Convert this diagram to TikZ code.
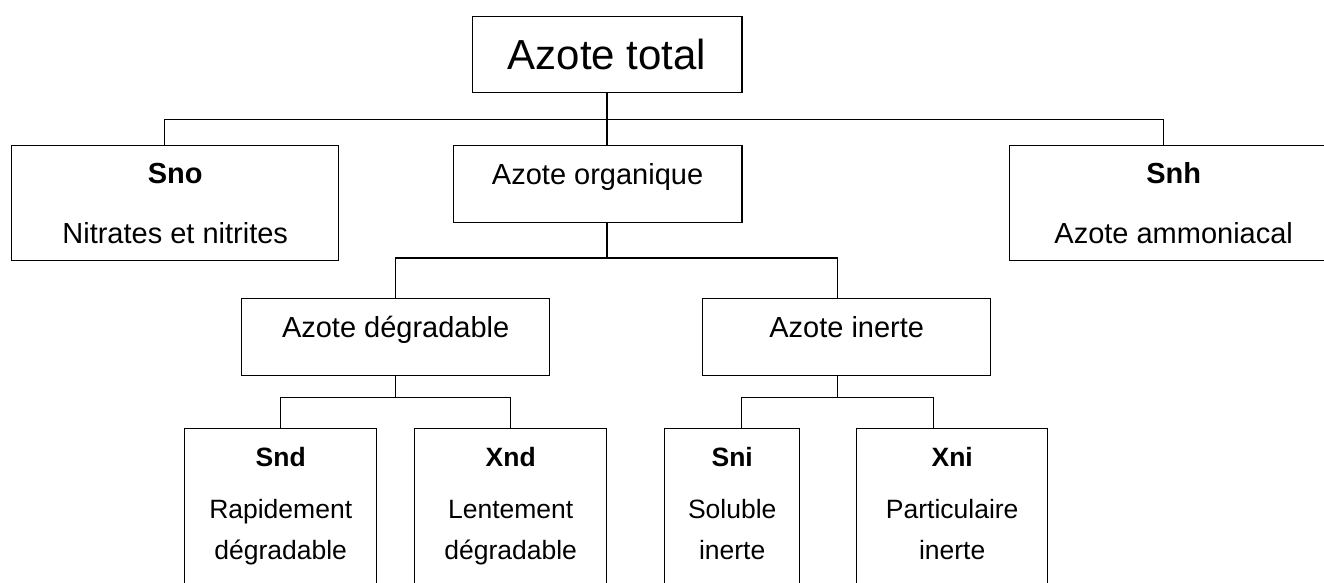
\documentclass[tikz,border=0pt]{standalone}
\usepackage{fontspec}
\setmainfont{Liberation Sans}

\begin{document}
\begin{tikzpicture}[x=0.5pt, y=-0.5pt]
  % --- one unit is one pixel of the page, y running downwards --------------
  \tikzset{
    box/.style={draw, line width=0.7pt, anchor=north west, inner sep=0pt},
    link/.style={draw, line width=0.7pt},
    headbox/.style={box, font=\fontsize{21pt}{25pt}\selectfont},
    groupbox/.style={box, font=\fontsize{14.5pt}{17pt}\selectfont,
      text height=10pt, text depth=10pt},
    statebox/.style={box, align=center,
      font=\fontsize{14.5pt}{30pt}\selectfont},
    leafbox/.style={box, minimum height=100pt},
    leaftext/.style={anchor=north, align=center, inner sep=0pt,
      font=\fontsize{13.25pt}{20.35pt}\selectfont}}

  \path[use as bounding box, clip] (0,0) rectangle (1324,583);

  % ---- 1. the total and its three parts ------------------------------------
  \node[headbox, minimum width=134.7pt, minimum height=38.2pt]
    (total) at (471.7,15.7) {Azote total};
  \node[statebox, minimum width=163.5pt, minimum height=57.5pt]
    (sno) at (11,145) {\textbf{Sno}\\Nitrates et nitrites};
  \node[groupbox, minimum width=144.2pt, minimum height=38.4pt]
    (orga) at (452.7,145) {Azote organique};
  \node[statebox, minimum width=164pt, minimum height=57.5pt]
    (snh) at (1009,145) {\textbf{Snh}\\Azote ammoniacal};

  % ---- 2. the organic part, split in two -----------------------------------
  \node[groupbox, minimum width=154pt, minimum height=38.5pt]
    (degr) at (241,298) {Azote dégradable};
  \node[groupbox, minimum width=144pt, minimum height=38.5pt]
    (inert) at (702,298) {Azote inerte};

  % ---- 3. the four fractions, open at the foot of the page -----------------
  \node[leafbox, minimum width=96pt]   (snd) at (184,428) {};
  \node[leafbox, minimum width=96pt]   (xnd) at (414,428) {};
  \node[leafbox, minimum width=67.5pt] (sni) at (664,428) {};
  \node[leafbox, minimum width=95.5pt] (xni) at (856,428) {};
  \node[leaftext] (snd-t) at ([yshift=-9.5pt]snd.north)
    {\textbf{Snd}\\[5.65pt]Rapidement\\dégradable};
  \node[leaftext] (xnd-t) at ([yshift=-9.5pt]xnd.north)
    {\textbf{Xnd}\\[5.65pt]Lentement\\dégradable};
  \node[leaftext] (sni-t) at ([yshift=-9.5pt]sni.north)
    {\textbf{Sni}\\[5.65pt]Soluble\\inerte};
  \node[leaftext] (xni-t) at ([yshift=-9.5pt]xni.north)
    {\textbf{Xni}\\[5.65pt]Particulaire\\inerte};

  % ---- 4. the tree lines ---------------------------------------------------
  \coordinate (hub1) at ([yshift=-13pt]total.south);
  \coordinate (hub2) at ([yshift=-17.5pt]hub1 |- orga.south);
  \coordinate (hub3) at ([yshift=-10.5pt]degr.south);
  \coordinate (hub4) at ([xshift=-4.5pt, yshift=-10.5pt]inert.south);

  \draw[link] (total.south) -- (hub1);
  \draw[link] ([xshift=-5.25pt]sno.north) |- (hub1) -| ([xshift=-5pt]snh.north);
  \draw[link] (hub1) -- (hub1 |- orga.north);

  \draw[link] (hub1 |- orga.south) -- (hub2);
  \draw[link] (degr.north) |- (hub2) -| ([xshift=-4.5pt]inert.north);

  \draw[link] (degr.south) -- (hub3);
  \draw[link] (snd.north) |- (hub3) -| (xnd.north);

  \draw[link] ([xshift=-4.5pt]inert.south) -- (hub4);
  \draw[link] ([xshift=4.75pt]sni.north) |- (hub4) -| ([xshift=-9.25pt]xni.north);
\end{tikzpicture}
\end{document}
